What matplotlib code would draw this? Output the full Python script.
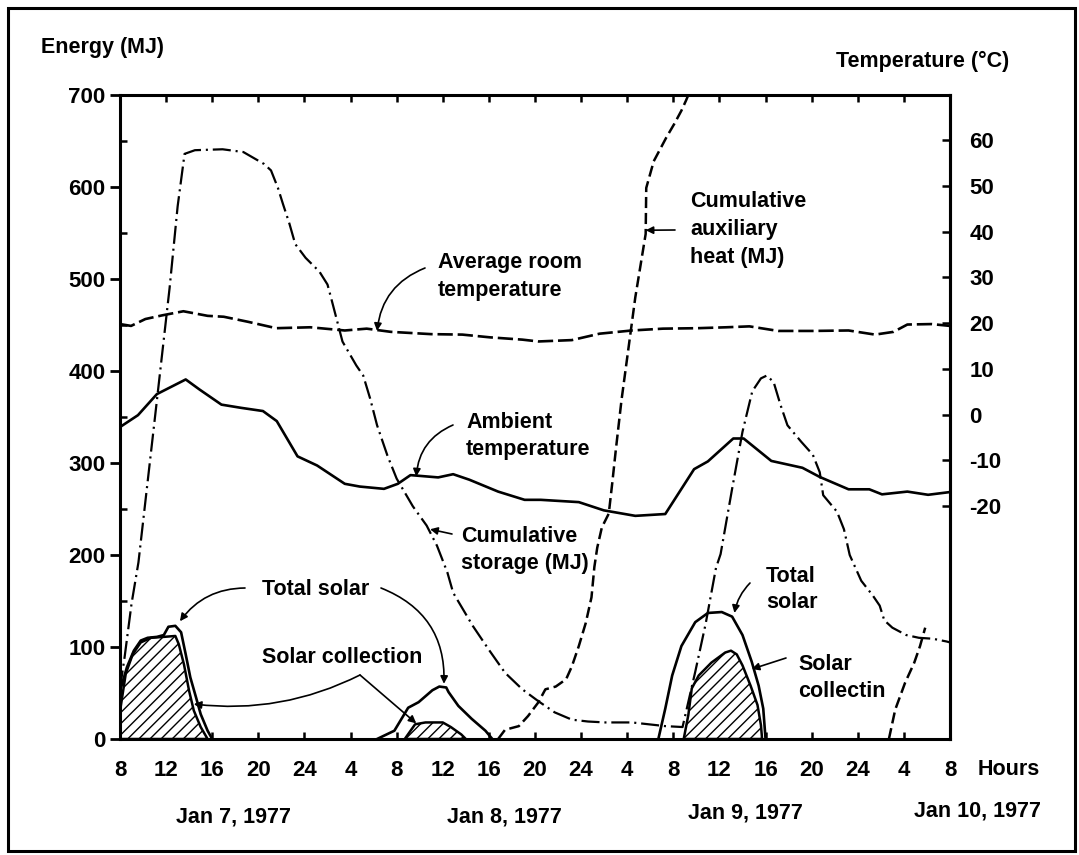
import matplotlib
matplotlib.use("Agg")
import matplotlib.pyplot as plt
from matplotlib.patches import Rectangle

plt.rcParams["font.family"] = ["Liberation Sans", "DejaVu Sans"]
plt.rcParams["font.weight"] = "bold"
plt.rcParams["hatch.linewidth"] = 1.0
plt.rcParams["lines.scale_dashes"] = False
plt.rcParams["axes.unicode_minus"] = False

# ---------------------------------------------------------------- data
# hours since 08:00 on Jan 7, 1977
hour_ticks = list(range(0, 73, 4))
hour_labels = ["8", "12", "16", "20", "24", "4", "8", "12", "16", "20",
               "24", "4", "8", "12", "16", "20", "24", "4", "8"]
energy_ticks = [0, 100, 200, 300, 400, 500, 600, 700]
temp_ticks = [-20, -10, 0, 10, 20, 30, 40, 50, 60]
date_labels = ["Jan 7, 1977", "Jan 8, 1977", "Jan 9, 1977", "Jan 10, 1977"]

# average room temperature (deg C)
room_h = [0, 0.96, 2.2, 3.65, 5.5, 7.6, 9.0, 11.1, 13.55, 16.5, 19.5, 21.4,
          23.5, 27.0, 29.7, 32.1, 34.9, 36.3, 39.2, 41.6, 44.4, 47.1, 50.1,
          52.6, 54.6, 57.1, 60.1, 63.2, 65.5, 67.1, 68.3, 70.4, 72]
room_t = [19.8, 19.4, 20.9, 21.7, 22.6, 21.6, 21.4, 20.3, 18.9, 19.1, 18.4,
          18.8, 18.1, 17.6, 17.5, 16.9, 16.4, 16.0, 16.3, 17.7, 18.4, 18.8,
          18.9, 19.1, 19.3, 18.3, 18.3, 18.4, 17.5, 18.1, 19.7, 19.8, 19.4]

# ambient temperature (deg C)
amb_h = [0, 1.56, 3.2, 5.7, 6.9, 8.8, 10.5, 12.4, 13.6, 15.4, 17.1, 19.5,
         20.8, 22.9, 24.1, 25.2, 27.6, 28.9, 30.3, 32.8, 35.1, 36.5, 39.8,
         41.97, 44.7, 47.3, 49.8, 51.0, 53.2, 54.1, 56.5, 59.2, 60.7, 63.2,
         65.0, 66.1, 68.3, 70.1, 72]
amb_t = [-2.7, -0.1, 4.5, 7.7, 5.5, 2.2, 1.5, 0.8, -1.4, -9.1, -11.1, -15.1,
         -15.7, -16.2, -15.1, -13.2, -13.7, -13.0, -14.2, -16.8, -18.6, -18.6,
         -19.1, -20.9, -22.1, -21.7, -11.9, -10.2, -5.2, -5.2, -10.1, -11.6,
         -13.6, -16.3, -16.3, -17.4, -16.8, -17.5, -16.9]

# cumulative storage (MJ)
stor_h = [0, 0.4, 1.0, 1.6, 3.2, 4.3, 5.0, 5.6, 6.5, 8.9, 10.7, 12.5, 13.1,
          13.7, 14.15, 14.7, 15.2, 16.1, 17.3, 18.0, 18.3, 19.3, 20.5, 21.1,
          21.7, 22.3, 23.2, 24.0, 25.4, 26.6, 27.5, 28.4, 28.9, 30.6, 32.0,
          33.4, 34.9, 36.3, 37.7, 39.2, 40.6, 42.1, 44.4, 47.3, 48.8, 49.9,
          50.8, 51.7, 52.1, 53.1, 54.0, 54.85, 55.6, 56.1, 56.7, 57.3, 57.9,
          59.1, 60.1, 60.7, 61.0, 62.2, 62.8, 63.3, 64.3, 65.3, 65.9, 66.3,
          67.0, 68.2, 69.3, 70.5, 71.7, 72]
stor_e = [55, 89, 147, 192, 368, 490, 579, 636, 640, 641, 638, 625, 618, 599,
          581, 560, 538, 523, 508, 494, 480, 432, 406, 395, 370, 341, 308, 283,
          253, 232, 210, 181, 159, 123, 97, 72, 54, 41, 29, 21, 19, 18, 18, 14,
          13, 73, 125, 186, 201, 272, 334, 378, 392, 395, 388, 363, 341, 323,
          309, 290, 265, 247, 228, 200, 172, 156, 145, 129, 121, 113, 110, 109,
          106, 105]

# cumulative auxiliary heat (MJ), two runs
aux1_h = [32.8, 33.4, 34.6, 35.4, 36.3, 36.9, 37.8, 38.7, 39.2, 39.8, 40.4,
          40.9, 41.15, 41.4, 41.8, 42.4, 42.7, 43.0, 43.5, 44.7, 45.6, 45.65,
          46.3, 47.4, 48.1, 48.7, 49.1, 49.3]
aux1_e = [0, 10, 14, 25, 40, 54, 57, 65, 79, 101, 126, 154, 187, 208, 230,
          245, 278, 313, 368, 480, 549, 599, 628, 654, 669, 683, 694, 700]
aux2_h = [66.7, 67.25, 68.1, 68.9, 69.4, 69.85]
aux2_e = [0, 32, 61, 83, 101, 121]

# total solar (MJ), three days
sol1_h = [0, 0.6, 1.2, 1.8, 2.4, 3.2, 3.8, 4.2, 4.8, 5.3, 5.7, 6.1, 6.6, 7.0,
          7.6, 8.0]
sol1_e = [52, 78, 96, 107, 110, 111, 113, 122, 123, 116, 92, 67, 45, 27, 9, 0]
sol2_h = [22.3, 23.8, 25.0, 25.9, 27.1, 27.7, 28.3, 28.5, 29.35, 30.5, 31.7,
          32.3]
sol2_e = [0, 9, 34, 40, 53, 57, 56, 51, 36, 22, 9, 0]
sol3_h = [46.7, 47.3, 47.9, 48.7, 49.9, 51.0, 52.2, 53.1, 54.0, 54.8, 55.4,
          55.8, 56.0]
sol3_e = [0, 33, 69, 101, 127, 137, 138, 133, 113, 84, 58, 33, 0]

# solar collection (MJ), three days
col1_h = [0, 0.5, 1.1, 1.8, 2.7, 3.8, 4.8, 5.1, 5.55, 6.0, 6.4, 7.0, 7.6]
col1_e = [30, 71, 92, 105, 110, 111, 112, 103, 81, 52, 31, 13, 0]
col2_h = [24.7, 25.6, 26.5, 28.0, 28.7, 29.6, 30.0]
col2_e = [0, 16, 18, 18, 13, 5, 0]
col3_h = [48.9, 49.3, 49.6, 50.2, 51.3, 52.5, 53.0, 53.5, 54.0, 54.7, 55.3,
          55.6, 55.7]
col3_e = [0, 26, 55, 69, 83, 94, 96, 92, 80, 58, 37, 15, 0]

# ---------------------------------------------------------------- figure
W, H = 1079, 855
fig = plt.figure(figsize=(W / 100, H / 100), dpi=100)


def fp(x, y):
    """pixel position -> figure fraction"""
    return (x / W, 1 - y / H)


FS = 15.5
ax = fig.add_axes([120 / W, 1 - 739 / H, 830 / W, 644 / H])
ax.set_xlim(0, 72)
ax.set_ylim(0, 700)
# temperature scale: 0 degC sits at 352.5 MJ, 10 degC spans 49.75 MJ
ax2 = ax.twinx()
ax2.set_ylim((0 - 352.5) / 4.975, (700 - 352.5) / 4.975)

for s in ax.spines.values():
    s.set_linewidth(2.2)
for s in ax2.spines.values():
    s.set_visible(False)
ax2.spines["right"].set_visible(True)
ax2.spines["right"].set_linewidth(2.2)

ax.set_xticks(hour_ticks)
ax.set_xticklabels(hour_labels)
ax.set_yticks(energy_ticks)
ax.set_yticks(range(50, 700, 100), minor=True)
ax.tick_params(axis="y", which="major", direction="out", length=7, width=2,
               pad=3.5, labelsize=16)
ax.tick_params(axis="y", which="minor", direction="in", length=5, width=1.8)
ax.tick_params(axis="x", which="major", direction="in", length=5, width=1.8,
               top=True, pad=15, labelsize=16)
ax2.set_yticks(temp_ticks)
ax2.tick_params(axis="y", direction="in", length=6, width=1.8, pad=14,
                labelsize=16)

# solar collection, hatched
for hh, ee in [(col1_h, col1_e), (col2_h, col2_e), (col3_h, col3_e)]:
    ax.fill_between(hh, ee, 0, facecolor="white", edgecolor="black",
                    hatch="///", linewidth=1.8, zorder=2)
# total solar
for hh, ee in [(sol1_h, sol1_e), (sol2_h, sol2_e), (sol3_h, sol3_e)]:
    ax.plot(hh, ee, color="black", lw=1.9, zorder=3,
            solid_joinstyle="round")

# cumulative storage (dash-dot)
ax.plot(stor_h, stor_e, color="black", lw=1.6,
        linestyle=(0, (13, 3.5, 1.5, 3.5)), zorder=3)
# cumulative auxiliary heat (dashed)
ax.plot(aux1_h, aux1_e, color="black", lw=1.8, linestyle=(0, (8, 3.5)),
        zorder=3)
ax.plot(aux2_h, aux2_e, color="black", lw=1.8, linestyle=(0, (8, 3.5)),
        zorder=3)

# temperatures on the right scale
ax2.plot(room_h, room_t, color="black", lw=1.9, linestyle=(0, (11, 3.5)))
ax2.plot(amb_h, amb_t, color="black", lw=1.9, solid_joinstyle="round")

# ---------------------------------------------------------------- labels
txt = dict(fontsize=FS, fontweight="bold", va="baseline", ha="left")
fig.text(*fp(41, 52.5), "Energy (MJ)", **txt)
fig.text(*fp(836, 66.5), "Temperature (\u00b0C)", **txt)
fig.text(*fp(978, 775), "Hours", **txt)

for label, cx, by in zip(date_labels, [234, 504, 745, 978],
                         [822, 822, 818, 816]):
    fig.text(*fp(cx, by), label, fontsize=FS, fontweight="bold",
             ha="center", va="baseline")

fig.text(*fp(438, 268), "Average room", **txt)
fig.text(*fp(438, 296), "temperature", **txt)
fig.text(*fp(690, 207), "Cumulative", **txt)
fig.text(*fp(690, 235), "auxiliary", **txt)
fig.text(*fp(690, 263), "heat (MJ)", **txt)
fig.text(*fp(466, 428), "Ambient", **txt)
fig.text(*fp(466, 455), "temperature", **txt)
fig.text(*fp(461, 542), "Cumulative", **txt)
fig.text(*fp(461, 569), "storage (MJ)", **txt)
fig.text(*fp(262, 595), "Total solar", **txt)
fig.text(*fp(262, 663), "Solar collection", **txt)
fig.text(*fp(766, 582), "Total", **txt)
fig.text(*fp(766, 608), "solar", **txt)
fig.text(*fp(798, 670), "Solar", **txt)
fig.text(*fp(798, 697), "collectin", **txt)

arrow = dict(arrowstyle="-|>", color="black", lw=1.2, mutation_scale=11,
             shrinkA=0, shrinkB=0)


def point_to(axis, xy, tail, rad=0.0):
    p = dict(arrow)
    p["connectionstyle"] = "arc3,rad=%g" % rad
    axis.annotate("", xy=xy, xytext=fp(*tail), xycoords="data",
                  textcoords="figure fraction", arrowprops=p,
                  annotation_clip=False)


point_to(ax2, (22.3, 18.3), (425, 268), 0.3)        # room temperature
point_to(ax, (45.6, 553), (675, 230))               # auxiliary heat
point_to(ax2, (25.7, -13.5), (453, 425), 0.3)       # ambient
point_to(ax, (26.9, 228), (452, 534))               # storage
point_to(ax, (5.2, 128), (245, 588), 0.25)          # total solar day 1
point_to(ax, (28.1, 60), (381, 588), -0.35)         # total solar day 2
point_to(ax, (6.4, 38), (360, 675), -0.15)          # collection day 1
point_to(ax, (25.7, 17), (360, 675))                # collection day 2
point_to(ax, (53.3, 137), (750, 583), 0.15)         # total solar day 3
point_to(ax, (54.8, 76), (786, 658))                # collection day 3

# outer frame
fig.patches.append(Rectangle(fp(8, 851), (1075 - 8) / W, (851 - 8) / H,
                             transform=fig.transFigure, fill=False,
                             lw=2.2, edgecolor="black"))

fig.savefig("out.png", dpi=100, facecolor="white")
